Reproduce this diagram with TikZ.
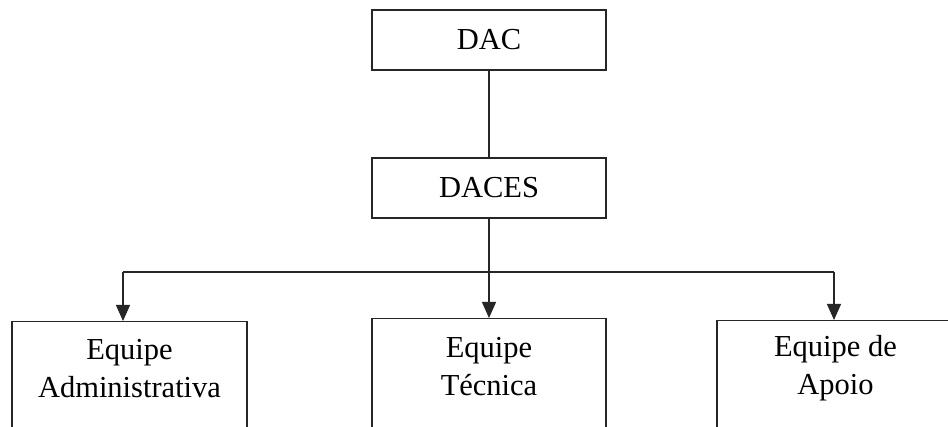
\documentclass[tikz,border=0pt]{standalone}
\usepackage{fontspec}
\setmainfont{Liberation Serif}
\usetikzlibrary{arrows.meta}
\begin{document}
\begin{tikzpicture}[x=1pt,y=-1pt,
  box/.style={draw=black!85, line width=1.2pt, inner sep=0pt},
  lbl/.style={font=\fontsize{30.5}{38}\selectfont, align=center, inner sep=0pt},
  conn/.style={line width=1.2pt, draw=black!85},
  arr/.style={conn, -{Triangle[width=14pt,length=16pt]}}]
\useasboundingbox (0,0) rectangle (948,427);
\clip (0,0) rectangle (948,427);
\fill[white] (0,0) rectangle (948,427);
\node[box, lbl, minimum width=234, minimum height=60] (dac) at (489,40) {DAC};
\node[box, lbl, minimum width=234, minimum height=60] (daces) at (489,188) {DACES};
\node[box, minimum width=235, minimum height=160, anchor=north] (adm) at (129.5,321) {};
\node[box, minimum width=234, minimum height=160, anchor=north] (tec) at (489,318) {};
\node[box, minimum width=235, minimum height=160, anchor=north] (apo) at (834.5,320) {};
\node[lbl] (admt) at (129.5,368.5) {Equipe\\Administrativa};
\node[lbl] (tect) at (489,366.5) {Equipe\\Técnica};
\node[lbl] (apot) at (835.5,368.5) {Equipe de\\Apoio};
\coordinate (busL) at (123,272);
\coordinate (busR) at (834,272);
\coordinate (busM) at (daces.south |- busL);
\draw[conn] (dac.south) -- (daces.north);
\draw[conn] (daces.south) -- (busM);
\draw[conn] (busL) -- (busR);
\draw[arr] (busL) -- (busL |- adm.north);
\draw[arr] (busM) -- (busM |- tec.north);
\draw[arr] (busR) -- (busR |- apo.north);
\end{tikzpicture}
\end{document}
